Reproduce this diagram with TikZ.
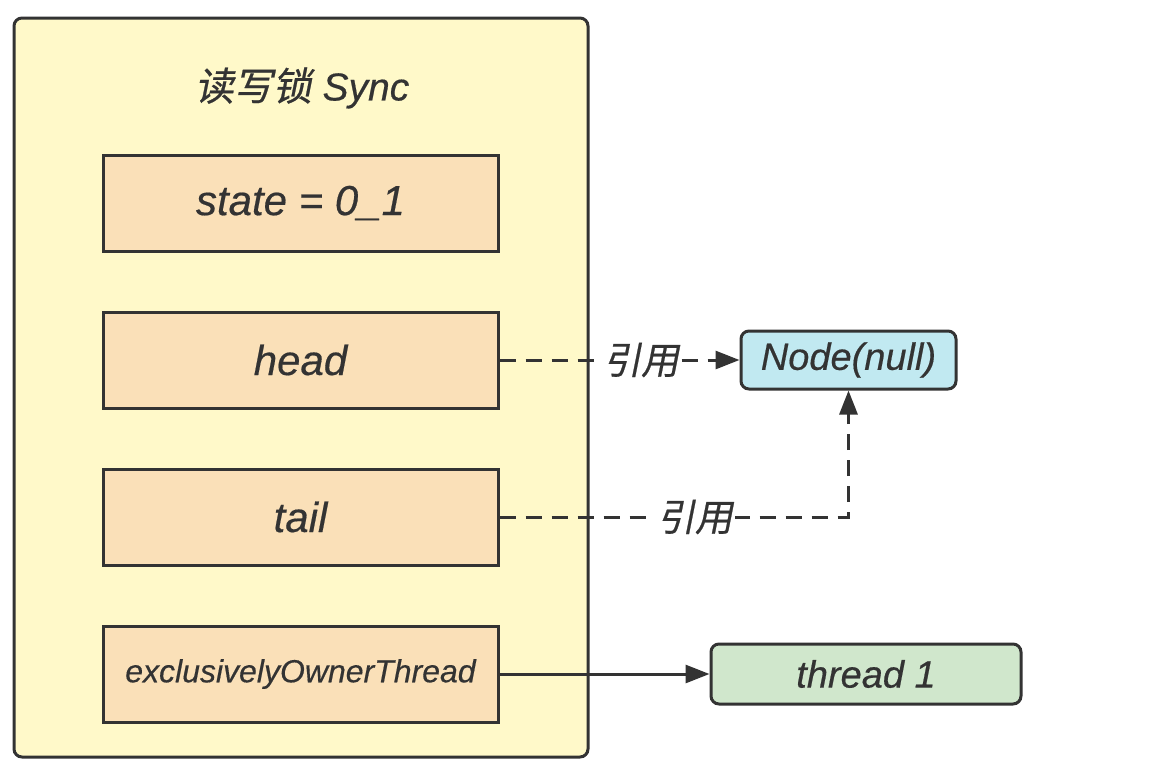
\documentclass[tikz,border=0pt]{standalone}
\usepackage{fontspec}
\setmainfont{Liberation Sans}[FakeBold=0.4]
\newfontfamily\cjk[FakeSlant=0.2,FakeBold=0.6]{Noto Sans CJK SC}
\usetikzlibrary{positioning, arrows.meta}
\definecolor{lockfill}{HTML}{FFF9C9}
\definecolor{fieldfill}{HTML}{FAE0B8}
\definecolor{nodefill}{HTML}{C1E9F1}
\definecolor{threadfill}{HTML}{D0E7CC}
\definecolor{ink}{HTML}{333333}

\begin{document}
\begin{tikzpicture}[%
		x=0.5pt, y=-0.5pt,
		node distance=29pt,
		lockbox/.style={
			rectangle,
			rounded corners=4pt,
			line width=1.5pt,
			draw=ink,
			fill=lockfill,
			minimum width=287pt,
			minimum height=369.5pt
		},
		field/.style={
			rectangle,
			line width=1.5pt,
			draw=ink,
			fill=fieldfill,
			minimum width=197.5pt,
			minimum height=48pt,
			text=ink,
			font=\fontsize{21}{24}\selectfont\itshape
		},
		target/.style={
			rectangle,
			rounded corners=4pt,
			line width=1.5pt,
			draw=ink,
			text=ink,
			font=\fontsize{19}{22}\selectfont\itshape
		},
		reflabel/.style={
			fill=white,
			inner sep=1pt,
			text=ink,
			font=\fontsize{18.8}{22}\selectfont\cjk
		},
		refline/.style={
			ink,
			line width=1.5pt,
			dash pattern=on 8pt off 5pt,
			-{Triangle[length=12pt,width=9pt]}
		},
		ownline/.style={
			ink,
			line width=1.5pt,
			-{Triangle[length=12pt,width=9pt]}
		}]

		\useasboundingbox (0,0) rectangle (1174,778);

		% LOCK
		\node (sync) [lockbox] at (301,387.5) {};
		\node (title) [text=ink, font=\fontsize{19.5}{22}\selectfont] at (302,88) {{\cjk 读写锁} \textit{Sync}};

		\node (state) [field] at (300.5,203) {state = 0\_1};
		\node (head) [field, below=of state] {head};
		\node (tail) [field, below=of head] {tail};
		\node (owner) [field, below=of tail, font=\fontsize{16}{19}\selectfont\itshape] {exclusivelyOwnerThread};

		% TARGETS
		\node (nullnode) [target, fill=nodefill, minimum width=107.5pt, minimum height=29pt, right=120pt of head] {Node(null)};
		\node (thread) [target, fill=threadfill, minimum width=155pt, minimum height=30pt, right=105pt of owner] {thread 1};

		% LINES
		\coordinate (bend) at (tail.east -| nullnode.south);

		\draw[refline] (head.east) -- node[reflabel, pos=0.59] {引用} (nullnode.west);
		\draw[refline] (tail.east) -- node[reflabel, pos=0.56] {引用} (bend) -- (nullnode.south);
		\draw[ownline] (owner.east) -- (thread.west);
\end{tikzpicture}
\end{document}
